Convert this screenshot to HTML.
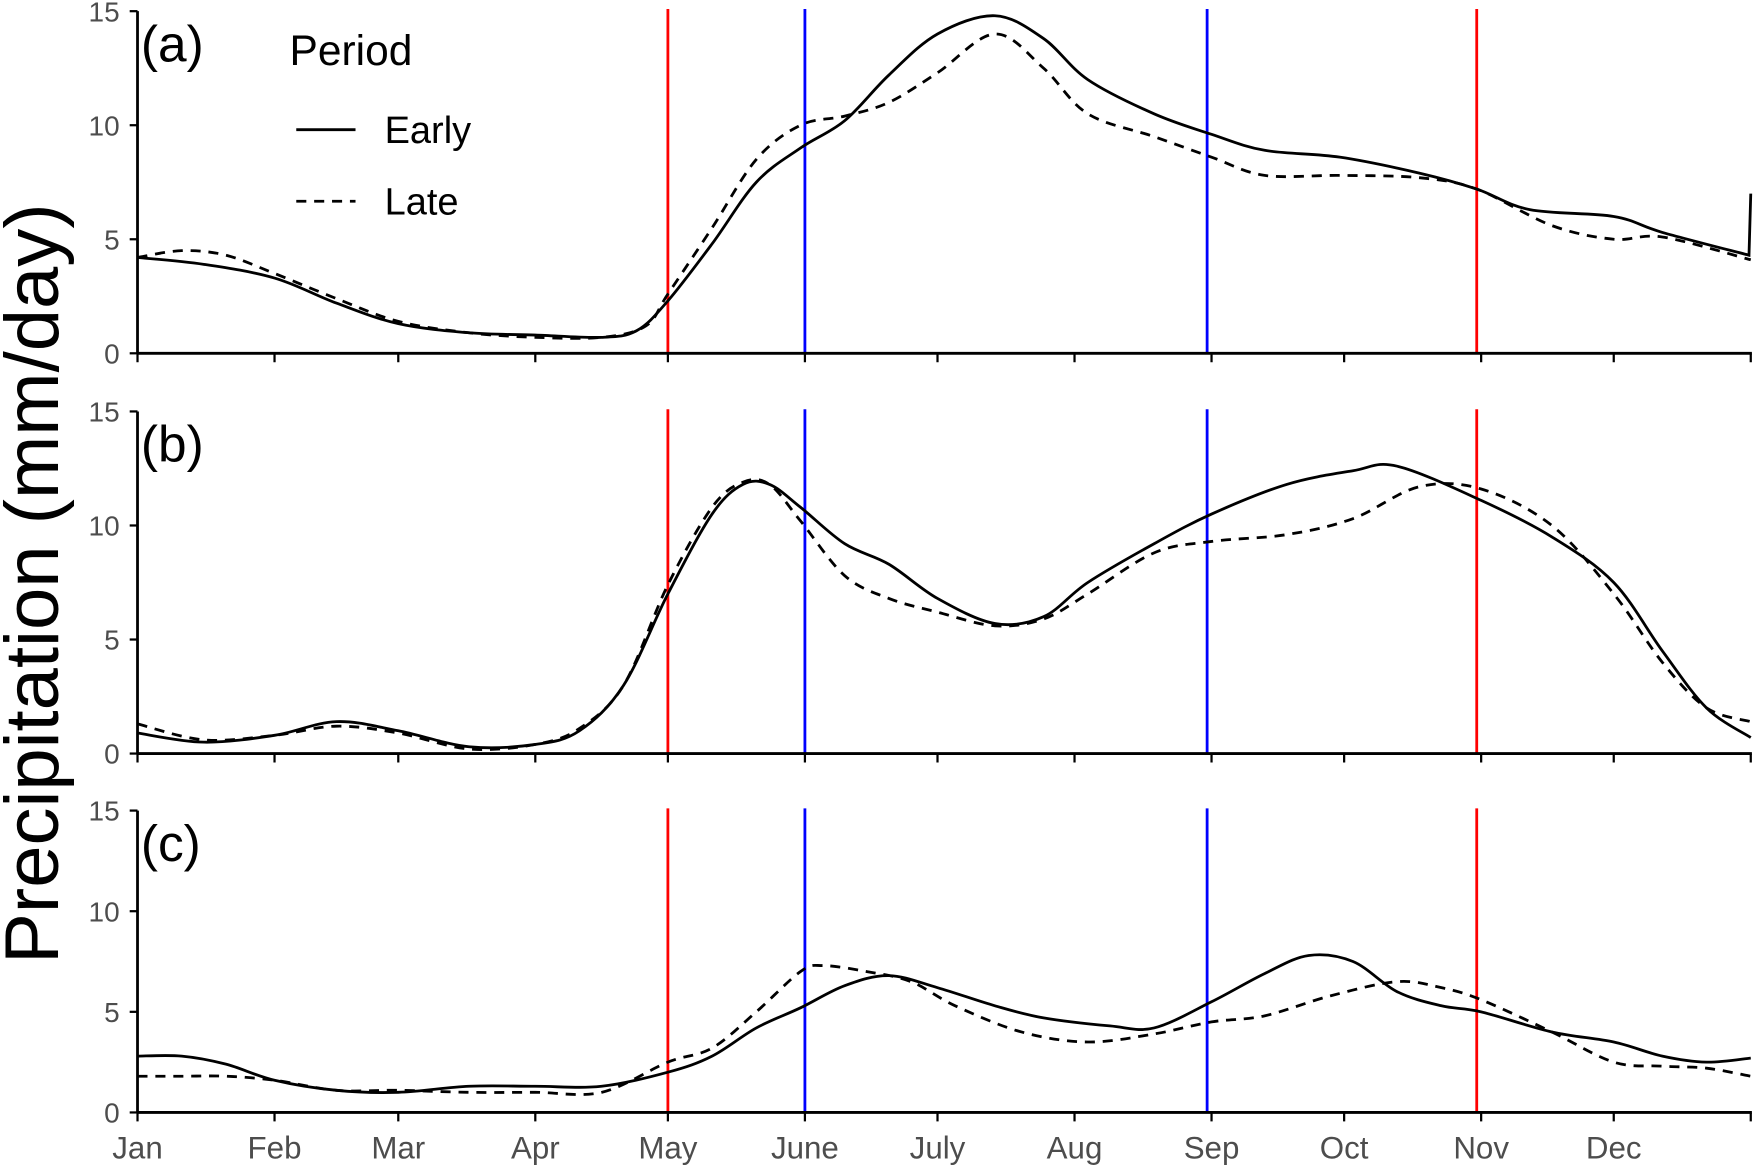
<!DOCTYPE html>
<html><head><meta charset="utf-8"><style>
html,body{margin:0;padding:0;background:#fff}
svg{display:block}
text{font-family:"Liberation Sans",Arial,sans-serif}
</style></head><body>
<svg id="chart" width="1753" height="1165" viewBox="0 0 1568 1042" preserveAspectRatio="none" xmlns="http://www.w3.org/2000/svg">
<text transform="translate(52,522) rotate(-90)" text-anchor="middle" font-size="68" fill="#000">Precipitation (mm/day)</text>
<g>
<text x="259" y="58" font-size="38">Period</text>
<line x1="265" y1="116" x2="318" y2="116" stroke="#000" stroke-width="2.5"/>
<text x="344" y="128" font-size="34">Early</text>
<line x1="265" y1="180" x2="318" y2="180" stroke="#000" stroke-width="2.5" stroke-dasharray="9,7"/>
<text x="344" y="192" font-size="34">Late</text>
</g>
</svg>
<script>
const months=["Jan","Feb","Mar","Apr","May","June","July","Aug","Sep","Oct","Nov","Dec"];
const monthDays=[0,31,59,90,120,151,181,212,243,273,304,334];
const yTicks=[0,5,10,15];
const redLines=[120,303];
const blueLines=[151,242];
const aDays=[0,15,31,45,59,75,90,105,113,120,130,140,150,160,170,181,194,205,215,230,243,255,272,290,303,315,334,345,364.6,365];
const aEarly=[4.2,3.9,3.3,2.2,1.3,0.9,0.8,0.7,1.0,2.3,4.8,7.5,9.0,10.2,12.2,14.0,14.8,13.8,12.0,10.5,9.6,8.9,8.6,7.9,7.2,6.3,6.0,5.3,4.3,7.0];
const aLateDays=[0,10,20,31,45,59,75,90,105,115,120,130,140,150,160,170,181,194,205,215,230,243,255,272,290,303,320,334,345,365];
const aLate=[4.2,4.5,4.3,3.5,2.4,1.4,0.9,0.7,0.7,1.2,2.6,5.5,8.5,10.0,10.4,11.0,12.3,14.0,12.5,10.5,9.5,8.6,7.8,7.8,7.7,7.2,5.6,5.0,5.1,4.1];
const bDays=[0,15,31,45,59,75,90,100,110,120,130,137,143,150,160,170,181,194,205,215,230,243,260,275,285,304,320,334,345,355,365];
const bEarly=[0.9,0.5,0.8,1.4,1.0,0.3,0.4,1.0,3.0,7.0,10.5,11.8,11.8,10.8,9.2,8.3,6.8,5.7,6.0,7.5,9.2,10.5,11.8,12.4,12.6,11.1,9.5,7.5,4.5,2.0,0.7];
const bLateDays=[0,15,31,45,59,75,90,100,110,120,130,137,143,150,160,170,181,194,205,215,230,243,260,275,290,304,320,334,345,355,365];
const bLate=[1.3,0.6,0.8,1.2,0.9,0.2,0.4,1.1,3.0,7.4,10.8,11.9,11.8,10.2,7.8,6.8,6.2,5.6,5.9,7.0,8.8,9.3,9.6,10.3,11.7,11.6,10.0,7.0,4.0,2.0,1.4];
const cDays=[0,10,20,31,45,59,75,90,105,120,130,140,150,160,170,181,194,205,220,230,243,255,265,275,285,295,304,320,334,345,355,365];
const cEarly=[2.8,2.8,2.4,1.6,1.1,1.0,1.3,1.3,1.3,2.0,2.8,4.2,5.2,6.3,6.8,6.2,5.3,4.7,4.3,4.2,5.5,6.9,7.8,7.5,6.0,5.3,5.0,4.0,3.5,2.8,2.5,2.7];
const cLateDays=[0,10,20,31,45,59,75,90,105,120,130,140,150,155,165,175,185,200,215,230,243,255,270,285,295,304,320,334,345,355,365];
const cLate=[1.8,1.8,1.8,1.6,1.1,1.1,1.0,1.0,1.0,2.5,3.2,5.0,7.0,7.3,7.0,6.5,5.3,4.0,3.5,3.9,4.5,4.8,5.8,6.5,6.2,5.6,4.0,2.5,2.3,2.2,1.8];

const NS="http://www.w3.org/2000/svg";
const svg=document.getElementById('chart');
const X0=123,X1=1566;
const xs=d=>X0+(X1-X0)*d/365;
const panels=[
 {label:"(a)",top:10,bot:316,ed:aDays,e:aEarly,ld:aLateDays,l:aLate,name:"a"},
 {label:"(b)",top:368,bot:674,ed:bDays,e:bEarly,ld:bLateDays,l:bLate,name:"b"},
 {label:"(c)",top:725,bot:995,ed:cDays,e:cEarly,ld:cLateDays,l:cLate,name:"c"}];
function mk(tag,attrs,parent){const el=document.createElementNS(NS,tag);for(const k in attrs)el.setAttribute(k,attrs[k]);(parent||svg).appendChild(el);return el;}
function pathFrom(days,vals,ys){
 const P=days.map((d,i)=>[xs(d),ys(vals[i])]);
 const jump=i=>i>=0&&i<days.length-1&&(days[i+1]-days[i])<1;
 let s="M"+P[0][0]+","+P[0][1];
 for(let i=0;i<P.length-1;i++){
  const p1=P[i],p2=P[i+1];
  if(jump(i)){s+=` L${p2[0]},${p2[1]}`;continue;}
  const p0=(i>0&&!jump(i-1))?P[i-1]:p1;
  const p3=(i+2<P.length&&!jump(i+1))?P[i+2]:p2;
  const t=1/6;
  const c1=[p1[0]+(p2[0]-p0[0])*t,p1[1]+(p2[1]-p0[1])*t];
  const c2=[p2[0]-(p3[0]-p1[0])*t,p2[1]-(p3[1]-p1[1])*t];
  s+=` C${c1[0]},${c1[1]} ${c2[0]},${c2[1]} ${p2[0]},${p2[1]}`;
 }
 return s;
}
panels.forEach(p=>{
 const ys=v=>p.bot-(p.bot-p.top)*v/15;
 const g=mk('g',{});
 
 
 redLines.forEach(d=>{const l=mk('line',{x1:xs(d),x2:xs(d),y1:p.top-2,y2:p.bot,stroke:'#ff0000','stroke-width':2.5},g);
  
  });
 blueLines.forEach(d=>{const l=mk('line',{x1:xs(d),x2:xs(d),y1:p.top-2,y2:p.bot,stroke:'#0000ff','stroke-width':2.5},g);
  
  });
 const pe=mk('path',{d:pathFrom(p.ed,p.e,ys),fill:'none',stroke:'#000','stroke-width':2.5},g);
 
 
 const pl=mk('path',{d:pathFrom(p.ld,p.l,ys),fill:'none',stroke:'#000','stroke-width':2.5,'stroke-dasharray':'9,7'},g);
 
 
 const ax=mk('line',{x1:X0,x2:X1+1,y1:p.bot,y2:p.bot,stroke:'#000','stroke-width':2.5},g);
 
 
 const ay=mk('line',{x1:X0,x2:X0,y1:p.top,y2:p.bot,stroke:'#000','stroke-width':2.5},g);
 
 
 monthDays.concat([365]).forEach(d=>{mk('line',{x1:xs(d),x2:xs(d),y1:p.bot,y2:p.bot+8,stroke:'#000','stroke-width':2},g);});
 yTicks.forEach(v=>{
  mk('line',{x1:X0-7,x2:X0,y1:ys(v),y2:ys(v),stroke:'#000','stroke-width':2},g);
  const t=mk('text',{x:X0-16,y:ys(v)+9,'text-anchor':'end','font-size':25,fill:'#4d4d4d'},g);
  t.textContent=v;
  
  
 });
 const lb=mk('text',{x:126,y:p.top+45,'font-size':46,fill:'#000'},g);
 lb.textContent=p.label;
 
 
});
months.forEach((m,i)=>{
 const t=mk('text',{x:xs(monthDays[i]),y:1036,'text-anchor':'middle','font-size':28,fill:'#4d4d4d'});
 t.textContent=m;
 
 
});
</script>
</body></html>
